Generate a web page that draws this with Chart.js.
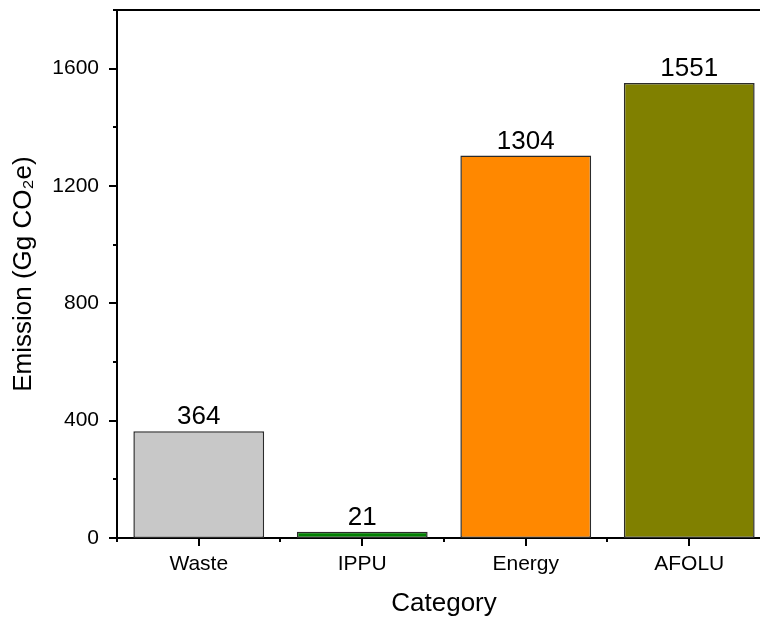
<!DOCTYPE html>
<html>
<head>
<meta charset="utf-8">
<script src="https://cdn.jsdelivr.net/npm/chart.js@4.4.0/dist/chart.umd.min.js"></script>
<style>
  html, body { margin: 0; padding: 0; overflow: hidden; background: #fff; }
</style>
</head>
<body>
<canvas id="myChart" width="780" height="621"></canvas>
<script>
// ---- data ----
const categories = ['Waste', 'IPPU', 'Energy', 'AFOLU'];
const emissions = [364, 21, 1304, 1551];
const barColors = ['#c8c8c8', '#008000', '#ff8800', '#808000'];
const yMax = 1800;
const yMinorStep = 200;
const yMajorStep = 400;

const FONT = 'Arial, "Liberation Sans", Helvetica, sans-serif';

// frame + major/minor tick marks + value labels
const framePlugin = {
  id: 'frame',
  afterDatasetsDraw(chart) {
    const c = chart.ctx;
    const meta = chart.getDatasetMeta(0);
    c.save();
    c.fillStyle = '#000';
    c.font = '26px ' + FONT;
    c.textAlign = 'center';
    c.textBaseline = 'bottom';
    meta.data.forEach((bar, i) => {
      c.fillText(String(emissions[i]), bar.x, bar.y - 1);
    });
    c.restore();
  },
  afterDraw(chart) {
    const c = chart.ctx;
    const a = chart.chartArea;
    const x = chart.scales.x;
    const y = chart.scales.y;
    c.save();
    c.strokeStyle = '#000';
    c.lineWidth = 2;
    c.beginPath();
    // top and right edges of the box
    c.moveTo(a.left - 1, a.top);
    c.lineTo(a.right, a.top);
    c.lineTo(a.right, a.bottom);
    // y ticks
    for (let v = 0; v <= yMax; v += yMinorStep) {
      const py = Math.round(y.getPixelForValue(v));
      const len = v % yMajorStep === 0 ? 8 : 4;
      c.moveTo(a.left - len, py);
      c.lineTo(a.left, py);
    }
    // x ticks: major at centres, minor at boundaries
    const half = (x.getPixelForValue(1) - x.getPixelForValue(0)) / 2;
    categories.forEach((cat, i) => {
      const px = Math.round(x.getPixelForValue(i));
      c.moveTo(px, a.bottom);
      c.lineTo(px, a.bottom + 8);
      const bx = Math.round(px - half);
      c.moveTo(bx, a.bottom);
      c.lineTo(bx, a.bottom + 4);
    });
    const lastB = Math.round(x.getPixelForValue(categories.length - 1) + half);
    c.moveTo(lastB, a.bottom);
    c.lineTo(lastB, a.bottom + 4);
    c.stroke();
    c.restore();
  }
};

const ctx = document.getElementById('myChart');

new Chart(ctx, {
  type: 'bar',
  data: {
    labels: categories,
    datasets: [{
      data: emissions,
      backgroundColor: barColors,
      borderColor: '#2b2b2b',
      borderWidth: 1.5,
      borderSkipped: false,
      barPercentage: 0.8,
      categoryPercentage: 1.0
    }]
  },
  options: {
    responsive: false,
    animation: false,
    layout: { padding: { top: 10, right: 9, left: 0, bottom: 0 } },
    plugins: {
      legend: { display: false },
      tooltip: { enabled: false }
    },
    scales: {
      x: {
        grid: { display: false, drawTicks: true, tickLength: 8 },
        border: { display: true, color: '#000', width: 2 },
        ticks: { color: '#000', padding: 6, font: { family: FONT, size: 21 } },
        title: {
          display: true,
          text: 'Category',
          color: '#000',
          font: { family: FONT, size: 26 },
          padding: { top: 0, bottom: 2 }
        },
        afterFit(scale) {
          scale.height = 83;
          scale.paddingLeft = 0;
          scale.paddingRight = 0;
        }
      },
      y: {
        min: 0,
        max: yMax,
        grid: { display: false, drawTicks: true, tickLength: 8 },
        border: { display: true, color: '#000', width: 2 },
        ticks: {
          stepSize: yMinorStep,
          color: '#000',
          padding: 10,
          font: { family: FONT, size: 21 },
          callback: (v) => (v % yMajorStep === 0 && v <= 1600 ? v : '')
        },
        title: {
          display: true,
          text: 'Emission (Gg CO₂e)',
          color: '#000',
          font: { family: FONT, size: 26 },
          padding: { top: 8, bottom: 0 }
        },
        afterFit(scale) {
          scale.width = 117;
          scale.paddingTop = 0;
          scale.paddingBottom = 0;
        }
      }
    }
  },
  plugins: [framePlugin]
});
</script>
</body>
</html>
